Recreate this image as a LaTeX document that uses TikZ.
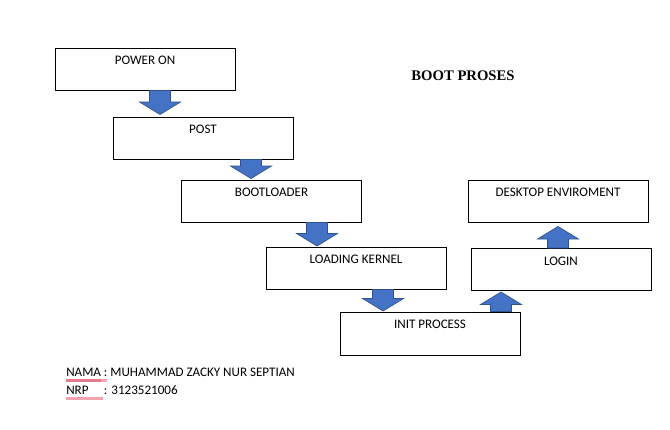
\documentclass[tikz,border=0pt]{standalone}
\usepackage{fontspec}
\setmainfont{Carlito}
\newfontfamily\titlefont{Liberation Serif}
\usetikzlibrary{calc}
\definecolor{arrowblue}{HTML}{4472C4}
\definecolor{arrowedge}{HTML}{2F528F}
\definecolor{spellred}{HTML}{E47A8C}
\definecolor{spellpink}{HTML}{F4A3B1}
\tikzset{
  box/.style={draw=black, line width=0.75pt, fill=white, minimum width=135pt, minimum height=31.5pt, inner sep=0pt},
  lbl/.style={font=\fontsize{9.8pt}{11pt}\selectfont, inner sep=0pt, anchor=base},
  blk/.style={fill=arrowblue, draw=arrowedge, line width=0.5pt, line join=miter},
  note/.style={font=\fontsize{9.8pt}{11pt}\selectfont, inner sep=0pt, anchor=base west},
}
% #1 axis x, #2 base node anchor, #3 tip node anchor, #4 direction (1 down, -1 up), #5 tip gap
\newcommand{\blockarrow}[5]{%
  \coordinate (ax) at (#1,0);
  \coordinate (bs) at (ax|-#2);
  \coordinate (tp) at ($(ax|-#3)+(0,{-(#5)*(#4)})$);
  \draw[blk] ($(bs)+(-10.5,0)$) -- ($(tp)+(-10.5,{-12.5*(#4)})$) -- ($(tp)+(-20.5,{-12.5*(#4)})$)
     -- (tp) -- ($(tp)+(20.5,{-12.5*(#4)})$) -- ($(tp)+(10.5,{-12.5*(#4)})$) -- ($(bs)+(10.5,0)$) -- cycle;}
\begin{document}
\begin{tikzpicture}[x=0.75pt,y=-0.75pt]
\useasboundingbox[fill=white] (0,0) rectangle (670,429);
% boxes
\node[box] (pwr) at (145,69) {};
\node[box] (post) at (203,138) {};
\node[box] (boot) at (271.5,201) {};
\node[box] (kern) at (356,268) {};
\node[box, minimum height=32.25pt] (init) at (430,333.5) {};
\node[box] (login) at (561,269.5) {};
\node[box] (desk) at (558,201) {};
% labels
\node[lbl] (pwrt) at ($(pwr.north)+(0,17)$) {POWER ON};
\node[lbl] (postt) at ($(post.north)+(0,17)$) {POST};
\node[lbl] (boott) at ($(boot.north)+(0,17)$) {BOOTLOADER};
\node[lbl] (kernt) at ($(kern.north)+(0,17)$) {LOADING KERNEL};
\node[lbl] (initt) at ($(init.north)+(0,17)$) {INIT PROCESS};
\node[lbl] (logint) at ($(login.north)+(0,17)$) {LOGIN};
\node[lbl] (deskt) at ($(desk.north)+(0,17)$) {DESKTOP ENVIROMENT};
% block arrows
\blockarrow{160}{pwr.south}{post.north}{1}{2}
\blockarrow{251}{post.south}{boot.north}{1}{1}
\blockarrow{317}{boot.south}{kern.north}{1}{0.5}
\blockarrow{383}{kern.south}{init.north}{1}{0.5}
\blockarrow{501}{init.north}{login.south}{-1}{1}
\blockarrow{558}{login.north}{desk.south}{-1}{4}
% title
\node[inner sep=0pt, anchor=base, font=\titlefont\bfseries\fontsize{11pt}{12pt}\selectfont] (title) at (463,80.5) {BOOT PROSES};
% identity
\node[note] (nama) at (66,376.5) {NAMA : MUHAMMAD ZACKY NUR SEPTIAN};
\node[note] (nrp) at (66,394.5) {\rlap{NRP}\hphantom{NAMA }: 3123521006};
\draw[spellred, line width=1.8pt] (66,380.5) -- (101,380.5);
\draw[spellpink, line width=1.8pt] (101,380.5) -- (107,380.5);
\draw[spellpink, line width=1.8pt] (66,398.5) -- (103,398.5);
\end{tikzpicture}
\end{document}
